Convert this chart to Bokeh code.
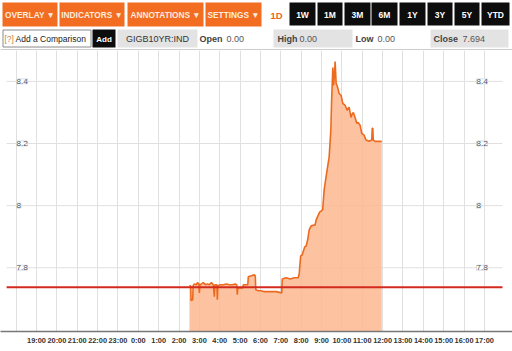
from bokeh.plotting import figure
from bokeh.layouts import column
from bokeh.models import Range1d, FixedTicker, ColumnDataSource, LabelSet
from bokeh.core.properties import value
from bokeh.embed import file_html
from bokeh.resources import INLINE

# ---------------- data ----------------
MENUS = ["OVERLAY \u25BC", "INDICATORS \u25BC", "ANNOTATIONS \u25BC", "SETTINGS \u25BC"]
ACTIVE_PERIOD = "1D"
PERIODS = ["1W", "1M", "3M", "6M", "1Y", "3Y", "5Y", "YTD"]
COMPARE_HELP = "[?]"
COMPARE_TEXT = "Add a Comparison"
ADD_TEXT = "Add"
TICKER = "GIGB10YR:IND"
QUOTE_NAMES = ["Open", "High", "Low", "Close"]
QUOTE_VALUES = ["0.00", "0.00", "0.00", "7.694"]

HOUR_LABELS = ["19:00", "20:00", "21:00", "22:00", "23:00", "0:00", "1:00", "2:00",
               "3:00", "4:00", "5:00", "6:00", "7:00", "8:00", "9:00", "10:00",
               "11:00", "12:00", "13:00", "14:00", "15:00", "16:00", "17:00"]
HOUR_TICKS = [-5, -4, -3, -2, -1, 0, 1, 2, 3, 4, 5, 6, 7, 8, 9, 10, 11, 12, 13, 14, 15, 16, 17]
GRID_HOURS = [-6, -5, -4, -3, -2, -1, 0, 1, 2, 3, 4, 5, 6, 7, 8, 9, 10, 11, 12, 13, 14, 15, 16, 17]

# hours after midnight
TIMES = [2.510, 2.574, 2.593, 2.672, 2.691, 2.755, 2.853, 2.902, 2.975, 3.000,
         3.025, 3.098, 3.196, 3.294, 3.392, 3.490, 3.588, 3.686, 3.735, 3.760,
         3.858, 3.882, 3.907, 4.029, 4.176, 4.324, 4.471, 4.618, 4.765, 4.838,
         4.863, 4.887, 5.010, 5.132, 5.157, 5.377, 5.402, 5.549, 5.696, 5.745,
         5.770, 5.892, 6.039, 6.186, 6.480, 6.775, 7.044, 7.069, 7.265, 7.461,
         7.657, 7.853, 7.902, 7.975, 8.049, 8.172, 8.245, 8.319, 8.392, 8.490,
         8.686, 8.735, 8.907, 9.054, 9.127, 9.250, 9.373, 9.456, 9.495, 9.554,
         9.593, 9.632, 9.667, 9.716, 9.789, 9.863, 9.961, 10.044, 10.157, 10.255,
         10.353, 10.402, 10.451, 10.500, 10.564, 10.647, 10.730, 10.794, 10.892, 10.975,
         11.088, 11.186, 11.333, 11.466, 11.490, 11.520, 11.539, 11.627, 11.775, 11.956]
YIELDS = [7.742, 7.742, 7.694, 7.697, 7.742, 7.748, 7.745, 7.752, 7.748, 7.719,
          7.745, 7.748, 7.752, 7.745, 7.748, 7.745, 7.752, 7.745, 7.707, 7.745,
          7.745, 7.697, 7.742, 7.745, 7.745, 7.748, 7.745, 7.745, 7.748, 7.745,
          7.713, 7.735, 7.735, 7.735, 7.745, 7.745, 7.771, 7.774, 7.777, 7.774,
          7.729, 7.726, 7.726, 7.723, 7.723, 7.723, 7.719, 7.764, 7.768, 7.764,
          7.768, 7.768, 7.780, 7.838, 7.841, 7.867, 7.870, 7.890, 7.922, 7.935,
          7.938, 7.954, 7.979, 7.986, 8.050, 8.105, 8.156, 8.243, 8.339, 8.445,
          8.387, 8.419, 8.464, 8.394, 8.381, 8.361, 8.355, 8.329, 8.323, 8.307,
          8.317, 8.300, 8.284, 8.294, 8.300, 8.284, 8.265, 8.268, 8.259, 8.233,
          8.227, 8.211, 8.207, 8.211, 8.249, 8.249, 8.211, 8.207, 8.207, 8.207]
PREV_CLOSE = 7.737
Y_TICKS = [7.8, 8.0, 8.2, 8.4]
Y_TICK_LABELS = ["7.8", "8", "8.2", "8.4"]

# ---------------- styles / layout ----------------
FONT = value("Liberation Sans")
ORANGE = "#F26D21"
X_START, X_END = -6.77, 18.38
Y_START, Y_END = 7.5947, 8.4995
GRID_X0, GRID_X1 = -6.47, 17.89

MENU_BOXES = [(2, 57), (59, 124), (127, 203), (205, 261)]
PERIOD_BOXES = [(289, 315), (317, 342), (344, 370), (371, 397), (399, 425),
                (427, 452), (454, 479), (481, 509)]

# ---------------- header ----------------
hdr = figure(width=512, height=50, x_range=Range1d(0, 512), y_range=Range1d(50, 0),
             toolbar_location=None, output_backend="svg", min_border=0,
             x_axis_location=None, y_axis_location=None, outline_line_color=None)
hdr.grid.visible = False

hdr.quad(left=[b[0] for b in MENU_BOXES], right=[b[1] for b in MENU_BOXES],
         top=2, bottom=26, fill_color=ORANGE, line_color=None)
hdr.text(x=[(b[0] + b[1]) / 2 for b in MENU_BOXES], y=14.5, text=MENUS,
         text_align="center", text_baseline="middle", text_font=FONT,
         text_font_style="bold", text_font_size="8.3px", text_color="#FDEBDF")
hdr.text(x=[276], y=[14.5], text=[ACTIVE_PERIOD], text_align="center",
         text_baseline="middle", text_font=FONT, text_font_style="bold",
         text_font_size="9.5px", text_color="#E8661A")
hdr.quad(left=[b[0] for b in PERIOD_BOXES], right=[b[1] for b in PERIOD_BOXES],
         top=2, bottom=25, fill_color="#0d0d0d", line_color=None)
hdr.text(x=[(b[0] + b[1]) / 2 for b in PERIOD_BOXES], y=14, text=PERIODS,
         text_align="center", text_baseline="middle", text_font=FONT,
         text_font_style="bold", text_font_size="8.5px", text_color="white")

# second row
hdr.quad(left=[2.5], right=[90.5], top=[29.5], bottom=[46.5], fill_color="white",
         line_color="#8a8a8a", line_width=1)
hdr.text(x=[4], y=[38.5], text=[COMPARE_HELP], text_baseline="middle",
         text_font=FONT, text_font_size="8.5px", text_color="#C98545")
hdr.text(x=[15], y=[38.5], text=[COMPARE_TEXT], text_baseline="middle",
         text_font=FONT, text_font_size="8.5px", text_color="#222222")
hdr.quad(left=[92], right=[115], top=[29], bottom=[47], fill_color="#0d0d0d", line_color=None)
hdr.text(x=[103.5], y=[38.5], text=[ADD_TEXT], text_align="center", text_baseline="middle",
         text_font=FONT, text_font_style="bold", text_font_size="8px", text_color="white")
hdr.quad(left=[117, 273, 430], right=[197, 352, 508], top=29, bottom=47,
         fill_color="#e3e3e3", line_color=None)
hdr.text(x=[157], y=[38.5], text=[TICKER], text_align="center", text_baseline="middle",
         text_font=FONT, text_font_size="9px", text_color="#333333")
hdr.text(x=[199, 277, 355, 433], y=38.5, text=QUOTE_NAMES, text_baseline="middle",
         text_font=FONT, text_font_style="bold", text_font_size="9px", text_color="#444444")
hdr.text(x=[226, 299, 377, 462], y=38.5, text=QUOTE_VALUES, text_baseline="middle",
         text_font=FONT, text_font_size="9px", text_color="#555555")
hdr.segment(x0=[0], x1=[512], y0=[49.5], y1=[49.5], line_color="#9a9a9a", line_width=1)

# ---------------- main chart ----------------
p = figure(width=512, height=297, x_range=Range1d(X_START, X_END),
           y_range=Range1d(Y_START, Y_END), toolbar_location=None,
           output_backend="svg", y_axis_location=None, min_border_left=0,
           min_border_right=0, min_border_top=0, min_border_bottom=15,
           outline_line_color=None)

p.xaxis.ticker = FixedTicker(ticks=HOUR_TICKS)
p.xaxis.major_label_overrides = dict(zip(HOUR_TICKS, HOUR_LABELS))
p.xaxis.major_tick_in = 0
p.xaxis.major_tick_out = 0
p.xaxis.minor_tick_in = 0
p.xaxis.minor_tick_out = 0
p.xaxis.axis_line_color = "#777777"
p.xaxis.axis_line_width = 1.5
p.xaxis.major_label_standoff = 4
p.xaxis.major_label_text_font = "Liberation Sans"
p.xaxis.major_label_text_font_size = "7.4px"
p.xaxis.major_label_text_font_style = "bold"
p.xaxis.major_label_text_color = "#333333"

p.xgrid.ticker = FixedTicker(ticks=GRID_HOURS)
p.xgrid.grid_line_color = "#e0e0e0"
p.ygrid.visible = False
p.segment(x0=GRID_X0, x1=GRID_X1, y0=Y_TICKS, y1=Y_TICKS,
          line_color="#e0e0e0", line_width=1, level="underlay")

src = ColumnDataSource(dict(t=TIMES, y=YIELDS))
p.varea(x="t", y1=Y_START, y2="y", source=src, fill_color="#FDB88F", fill_alpha=0.85)
p.line(x="t", y="y", source=src, line_color="#EC6A1E", line_width=1.6)

p.segment(x0=[GRID_X0], x1=[GRID_X1], y0=[PREV_CLOSE], y1=[PREV_CLOSE],
          line_color="#D32A1E", line_width=2)

lab_src = ColumnDataSource(dict(y=Y_TICKS, text=Y_TICK_LABELS))
for xs in (16, 476):
    p.add_layout(LabelSet(x=xs, y="y", text="text", x_units="screen", source=lab_src,
                          text_font=value("Liberation Sans"), text_font_size=value("8px"),
                          text_color="#555555", text_baseline="middle",
                          background_fill_color="white",
                          border_line_color="#dddddd"))

# ---------------- footer line ----------------
ftr = figure(width=512, height=4, x_range=Range1d(0, 512), y_range=Range1d(0, 4),
             toolbar_location=None, output_backend="svg", min_border=0,
             x_axis_location=None, y_axis_location=None, outline_line_color=None)
ftr.grid.visible = False
ftr.quad(left=[0], right=[512], top=[3], bottom=[1], fill_color="#8a8a8a", line_color=None)

layout = column(hdr, p, ftr, spacing=0)
open("out.html", "w").write(file_html(layout, INLINE))
